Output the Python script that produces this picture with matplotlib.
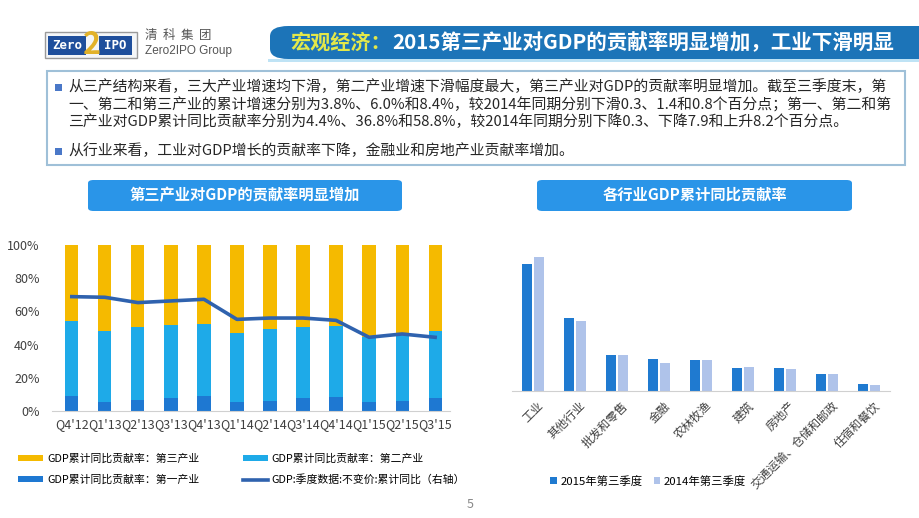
import matplotlib.pyplot as plt
from matplotlib.patches import FancyBboxPatch, Rectangle

plt.rcParams['font.family'] = ['Noto Sans CJK SC', 'DejaVu Sans']

W, H = 920, 518

# left chart data (share of GDP growth, %)
quarters = ["Q4'12", "Q1'13", "Q2'13", "Q3'13", "Q4'13", "Q1'14",
            "Q2'14", "Q3'14", "Q4'14", "Q1'15", "Q2'15", "Q3'15"]
primary = [9.2, 5.6, 6.6, 8.0, 9.2, 5.2, 6.2, 8.0, 8.6, 5.2, 6.0, 7.6]
secondary = [45.2, 42.6, 43.8, 43.6, 43.4, 41.6, 43.2, 42.8, 42.8, 39.2, 41.2, 40.6]
tertiary = [45.6, 51.8, 49.6, 48.4, 47.4, 53.2, 50.6, 49.2, 48.6, 55.6, 52.8, 51.8]
gdp_line = [68.9, 68.5, 65.3, 66.3, 67.3, 55.2, 56.0, 56.0, 54.6, 44.4, 46.4, 44.4]

# right chart data
industries = ["工业", "其他行业", "批发和零售", "金融", "农林牧渔", "建筑",
              "房地产", "交通运输、仓储和邮政", "住宿和餐饮"]
q3_2015 = [34.7, 20.1, 9.9, 8.8, 8.4, 6.4, 6.2, 4.7, 1.8]
q3_2014 = [36.8, 19.1, 9.9, 7.6, 8.5, 6.6, 6.0, 4.7, 1.7]

bullet_lines = [
    "从三产结构来看，三大产业增速均下滑，第二产业增速下滑幅度最大，第三产业对GDP的贡献率明显增加。截至三季度末，第",
    "一、第二和第三产业的累计增速分别为3.8%、6.0%和8.4%，较2014年同期分别下滑0.3、1.4和0.8个百分点；第一、第二和第",
    "三产业对GDP累计同比贡献率分别为4.4%、36.8%和58.8%，较2014年同期分别下降0.3、下降7.9和上升8.2个百分点。",
]
bullet2 = "从行业来看，工业对GDP增长的贡献率下降，金融业和房地产业贡献率增加。"

c_third = '#F5BA00'
c_second = '#1EAAE8'
c_first = '#1E78D2'
c_line = '#2F62AE'
c_2015 = '#1F7AD0'
c_2014 = '#AFC3EA'


def px_box(x0, y0, x1, y1):
    return [x0 / W, 1 - y1 / H, (x1 - x0) / W, (y1 - y0) / H]


def fx(x):
    return x / W


def fy(y):
    return 1 - y / H


fig = plt.figure(figsize=(9.2, 5.18), dpi=100)

# ---- header ----
fig.patches.append(FancyBboxPatch((fx(270), fy(59)), fx(700), (59 - 26) / H,
                                  boxstyle='round,pad=0,rounding_size=0.02',
                                  transform=fig.transFigure, facecolor='#1C74B8',
                                  edgecolor='none'))
fig.patches.append(Rectangle((fx(268), fy(62)), fx(660), 3 / H, transform=fig.transFigure,
                             facecolor='#BFE3F5', edgecolor='none'))
fig.text(fx(290), fy(42.5), "宏观经济：", color='#E3E84A', fontsize=14.5,
         fontweight='bold', va='center', ha='left')
fig.text(fx(392), fy(42.5), "2015第三产业对GDP的贡献率明显增加，工业下滑明显", color='white',
         fontsize=14.8, fontweight='bold', va='center', ha='left')

# logo
fig.patches.append(Rectangle((fx(45), fy(58)), fx(92), 26 / H, transform=fig.transFigure,
                             facecolor='#F4F6F8', edgecolor='#9A9A9A', lw=1))
fig.patches.append(Rectangle((fx(48), fy(55)), fx(38), 19 / H, transform=fig.transFigure,
                             facecolor='#1F4F9C', edgecolor='none'))
fig.patches.append(Rectangle((fx(99), fy(55)), fx(33), 19 / H, transform=fig.transFigure,
                             facecolor='#1F4F9C', edgecolor='none'))
fig.text(fx(67), fy(45.5), "Zero", color='white', fontsize=9, fontweight='bold',
         family='DejaVu Sans Mono', ha='center', va='center')
fig.text(fx(115.5), fy(45.5), "IPO", color='white', fontsize=9, fontweight='bold',
         family='DejaVu Sans Mono', ha='center', va='center')
fig.text(fx(92), fy(45), "2", color='#E2B22A', fontsize=22, fontweight='bold',
         style='italic', ha='center', va='center')
fig.text(fx(145), fy(35), "清  科  集  团", color='#555555', fontsize=9, va='center')
fig.text(fx(145), fy(51), "Zero2IPO Group", color='#555555', fontsize=8.5, va='center',
         family=['Liberation Sans'])

# ---- text box ----
fig.patches.append(Rectangle((fx(47), fy(165)), fx(858), (165 - 71) / H,
                             transform=fig.transFigure, facecolor='white',
                             edgecolor='#9FC0D8', lw=1.5))
for yb in [87, 151]:
    fig.patches.append(Rectangle((fx(55), fy(yb + 3.5)), fx(7), 7 / H,
                                 transform=fig.transFigure, facecolor='#4A78C8',
                                 edgecolor='none'))
for i, line in enumerate(bullet_lines):
    fig.text(fx(68), fy(87 + 17.5 * i), line, fontsize=10.7, color='#262626', va='center')
fig.text(fx(68), fy(151), bullet2, fontsize=10.7, color='#262626', va='center')

# ---- sub-title banners ----
for (x0, x1, title) in [(88, 402, "第三产业对GDP的贡献率明显增加"),
                        (537, 852, "各行业GDP累计同比贡献率")]:
    fig.patches.append(FancyBboxPatch((fx(x0), fy(211)), fx(x1 - x0), 31 / H,
                                      boxstyle='round,pad=0,rounding_size=0.006',
                                      transform=fig.transFigure, facecolor='#2A95E8',
                                      edgecolor='none'))
    fig.text(fx((x0 + x1) / 2), fy(195), title, color='white', fontsize=11,
             fontweight='bold', ha='center', va='center')

# ---- left chart ----
ax = fig.add_axes(px_box(52, 245, 450, 411))
x = list(range(len(quarters)))
bw = 0.4
ax.bar(x, primary, bw, color=c_first, label='GDP累计同比贡献率：第一产业')
ax.bar(x, secondary, bw, bottom=primary, color=c_second, label='GDP累计同比贡献率：第二产业')
bottom3 = [a + b for a, b in zip(primary, secondary)]
ax.bar(x, tertiary, bw, bottom=bottom3, color=c_third, label='GDP累计同比贡献率：第三产业')
ax.set_ylim(0, 100)
ax.set_xlim(-0.6, 11.45)
ax.set_yticks([0, 20, 40, 60, 80, 100])
ax.set_yticklabels(['0%', '20%', '40%', '60%', '80%', '100%'])
ax.set_xticks(x)
ax.set_xticklabels(quarters)
ax.tick_params(axis='y', length=0, labelsize=9, colors='#404040', pad=9)
ax.tick_params(axis='x', length=0, labelsize=9, colors='#404040', pad=5)
for s in ['left', 'top', 'right']:
    ax.spines[s].set_visible(False)
ax.spines['bottom'].set_color('#D0D0D0')

ax2 = ax.twinx()
ax2.plot(x, gdp_line, color=c_line, lw=2.6, label='GDP:季度数据:不变价:累计同比（右轴）')
ax2.set_ylim(0, 100)
ax2.set_yticks([])
for s in ax2.spines.values():
    s.set_visible(False)

h1, l1 = ax.get_legend_handles_labels()
h2, l2 = ax2.get_legend_handles_labels()
handles = [h1[2], h1[0], h1[1], h2[0]]
labels = [l1[2], l1[0], l1[1], l2[0]]
fig.legend(handles, labels, loc='upper left', bbox_to_anchor=(fx(8), fy(444)), ncol=2,
           frameon=False, fontsize=7.8, handlelength=2.3, handleheight=0.5,
           columnspacing=4.0, labelspacing=0.95, handletextpad=0.4)

# ---- right chart ----
axr = fig.add_axes(px_box(512, 245, 890, 391))
xr = list(range(len(industries)))
axr.bar([i - 0.145 for i in xr], q3_2015, 0.24, color=c_2015, label='2015年第三季度')
axr.bar([i + 0.145 for i in xr], q3_2014, 0.24, color=c_2014, label='2014年第三季度')
axr.set_ylim(0, 40)
axr.set_xlim(-0.5, len(industries) - 0.5)
axr.set_yticks([])
axr.set_xticks([i + 0.1 for i in xr])
axr.set_xticklabels(industries, rotation=45, ha='right', va='top', rotation_mode='anchor',
                    fontsize=8.5, color='#404040')
axr.tick_params(axis='x', length=0, pad=6)
for s in ['left', 'top', 'right']:
    axr.spines[s].set_visible(False)
axr.spines['bottom'].set_color('#D0D0D0')
axr.legend(loc='center', bbox_to_anchor=(fx(648), fy(481)), bbox_transform=fig.transFigure,
           ncol=2, frameon=False, fontsize=8.2, handlelength=0.6, handleheight=0.6,
           handletextpad=0.3, columnspacing=1.0)

fig.text(fx(470), fy(505), "5", color='#888888', fontsize=9, ha='center', va='center')

fig.savefig('out.png', dpi=100)
